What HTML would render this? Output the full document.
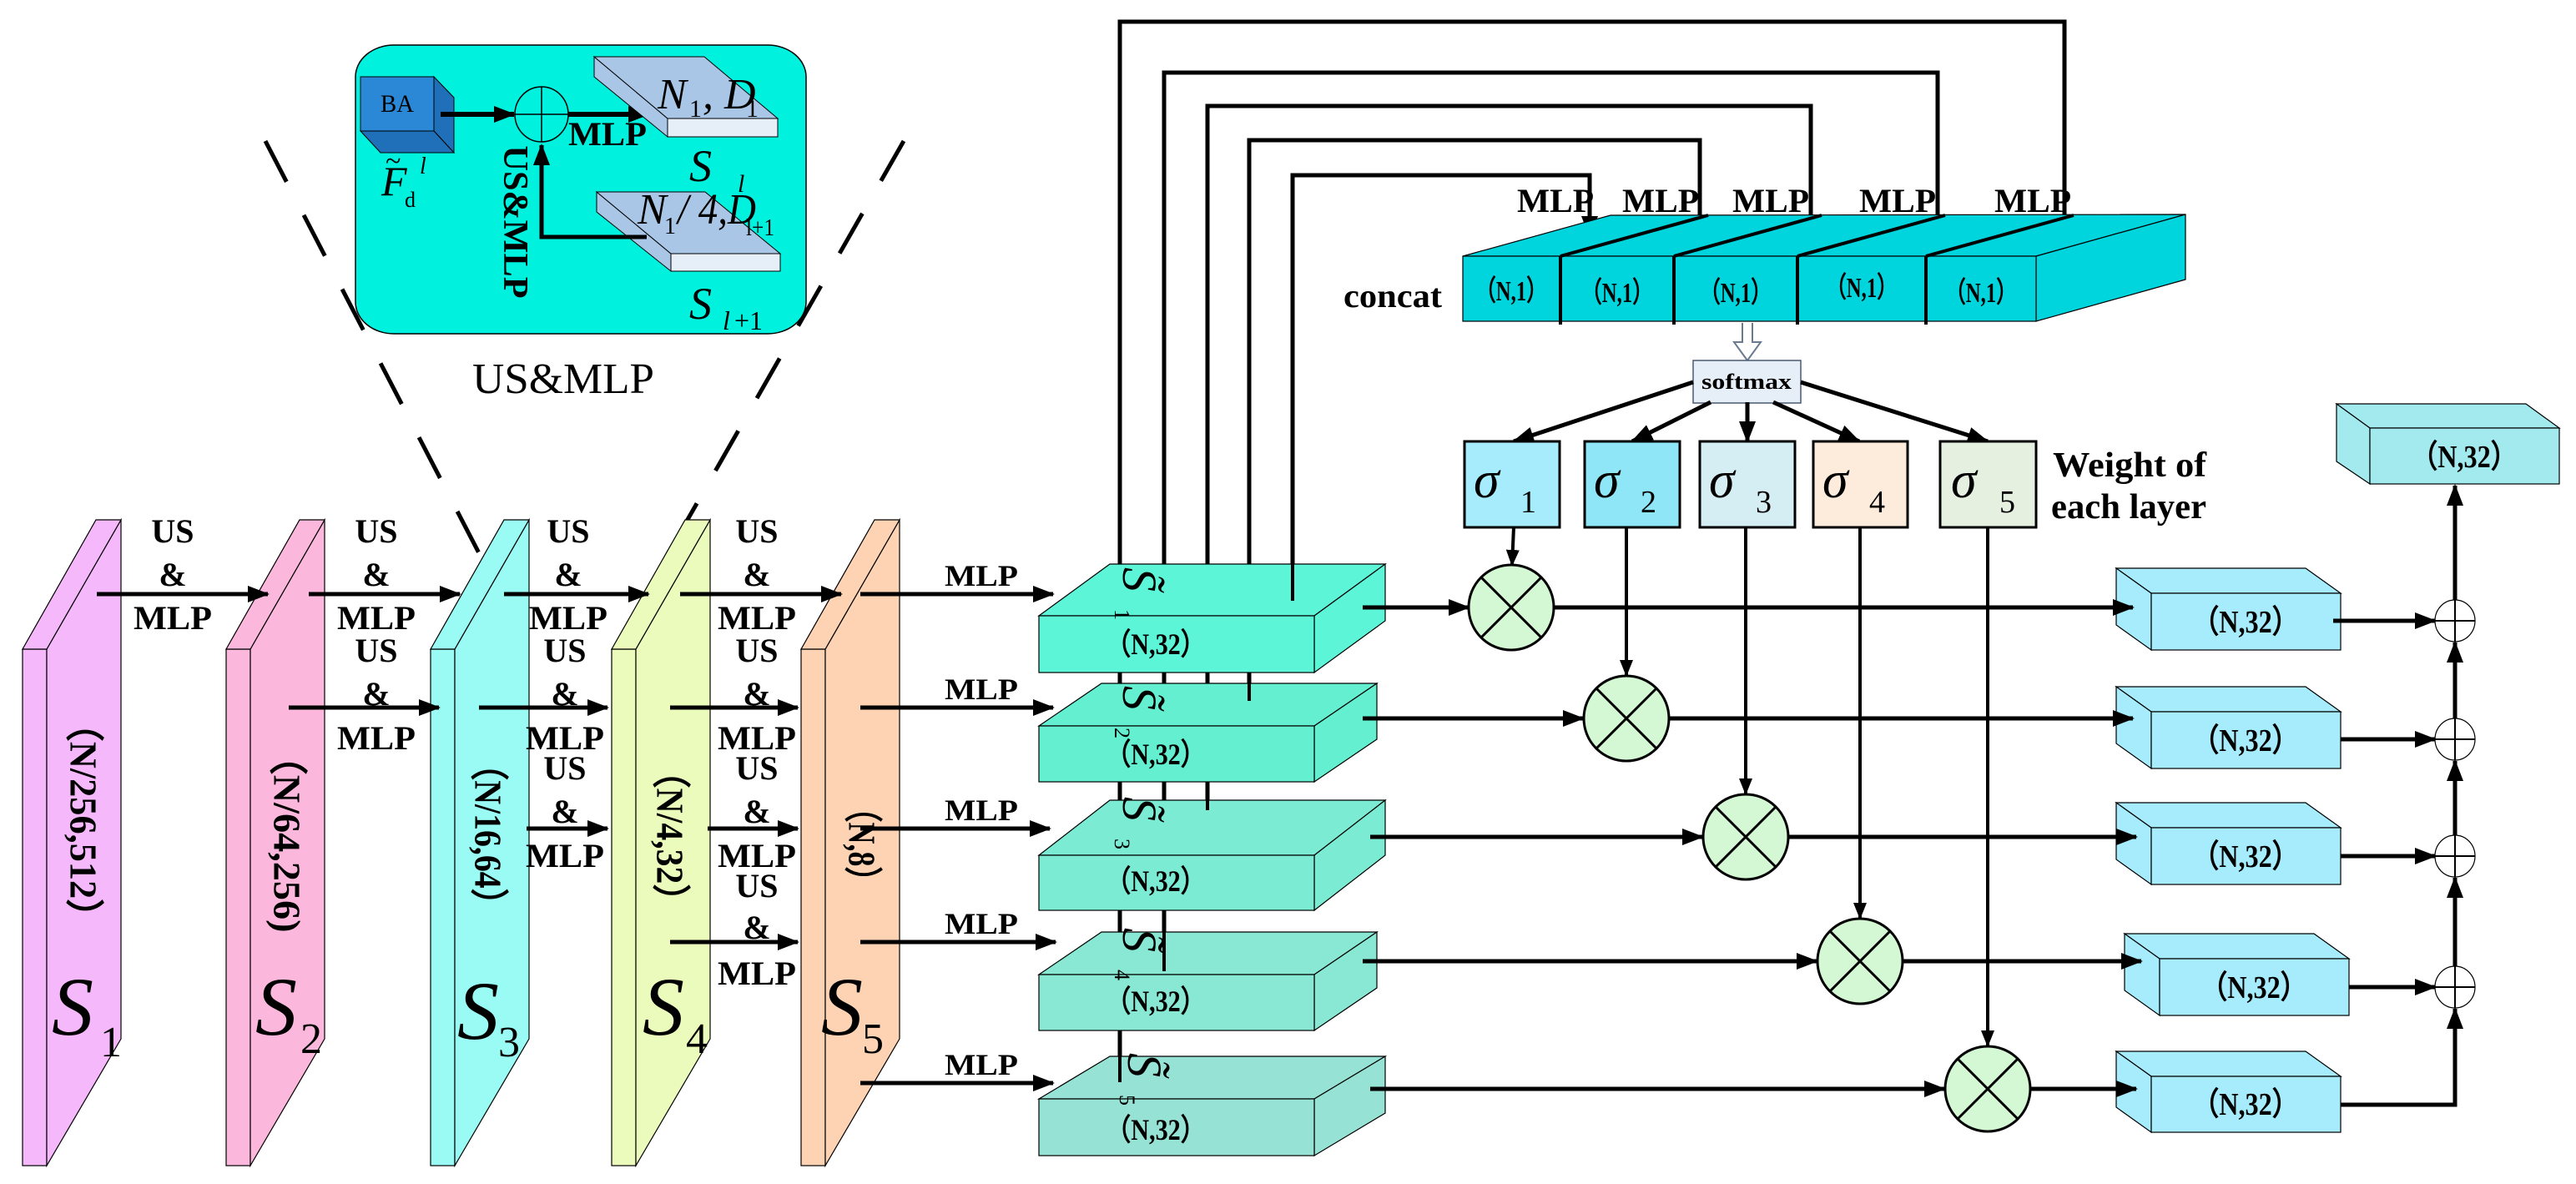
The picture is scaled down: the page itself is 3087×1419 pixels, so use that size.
<!DOCTYPE html>
<html><head><meta charset="utf-8"><style>
html,body{margin:0;padding:0;background:#fff}
svg{display:block}
text{font-family:"Liberation Serif",serif}
.b{font-weight:bold}
</style></head><body>
<svg width="3087" height="1419" viewBox="0 0 3087 1419" xmlns="http://www.w3.org/2000/svg">
<defs>
<marker id="a" markerUnits="userSpaceOnUse" markerWidth="26" markerHeight="20" refX="24" refY="10" orient="auto"><path d="M0,0 L26,10 L0,20 z" fill="#000"/></marker>
<marker id="s" markerUnits="userSpaceOnUse" markerWidth="20" markerHeight="16" refX="18" refY="8" orient="auto"><path d="M0,0 L20,8 L0,16 z" fill="#000"/></marker>
</defs>

<!-- dashed zoom lines -->
<g stroke="#000" stroke-width="5" stroke-dasharray="55,45" fill="none">
<line x1="318" y1="169" x2="601" y2="715"/>
<line x1="1083" y1="169" x2="773" y2="712"/>
</g>

<!-- inset -->
<rect x="426" y="54" width="540" height="346" rx="46" ry="38" fill="#00f2de" stroke="#000" stroke-width="1.5"/>
<polygon points="520,92 544,117 544,183 520,157" fill="#1f70b8" stroke="#000" stroke-width="1"/>
<polygon points="432,157 456,183 544,183 520,157" fill="#1f70b8" stroke="#000" stroke-width="1"/>
<rect x="432" y="92" width="88" height="65" fill="#2a88d6" stroke="#000" stroke-width="1"/>
<text x="476" y="134" font-size="30" text-anchor="middle" textLength="40" lengthAdjust="spacingAndGlyphs">BA</text>
<text x="457" y="234" font-size="50" font-style="italic">F</text>
<text x="462" y="204" font-size="34">~</text>
<text x="485" y="248" font-size="26">d</text>
<text x="503" y="208" font-size="28" font-style="italic">l</text>
<ellipse cx="649" cy="137" rx="32" ry="33" fill="none" stroke="#000" stroke-width="1.5"/>
<line x1="617" y1="137" x2="681" y2="137" stroke="#000" stroke-width="1.5"/>
<line x1="649" y1="104" x2="649" y2="170" stroke="#000" stroke-width="1.5"/>
<line x1="528" y1="137" x2="616" y2="137" stroke="#000" stroke-width="6" marker-end="url(#a)"/>
<line x1="681" y1="137" x2="777" y2="137" stroke="#000" stroke-width="6" marker-end="url(#a)"/>
<text x="681" y="174" font-size="40" class="b" textLength="94" lengthAdjust="spacingAndGlyphs">MLP</text>
<polygon points="712,68 712,92 800,164 800,142" fill="#a9c6e6" stroke="#000" stroke-width="1"/>
<polygon points="712,68 844,68 932,142 800,142" fill="#a9c6e6" stroke="#000" stroke-width="1"/>
<rect x="800" y="142" width="132" height="22" fill="#e6eef8" stroke="#000" stroke-width="1"/>
<polygon points="715,230 715,254 804,325 804,304" fill="#a9c6e6" stroke="#000" stroke-width="1"/>
<polygon points="715,230 845,230 935,304 804,304" fill="#a9c6e6" stroke="#000" stroke-width="1"/>
<rect x="804" y="304" width="131" height="21" fill="#e6eef8" stroke="#000" stroke-width="1"/>
<text x="788" y="130" font-size="52" font-style="italic">N</text>
<text x="826" y="140" font-size="30">1</text>
<text x="842" y="130" font-size="52" font-style="italic">, D</text>
<text x="894" y="140" font-size="30">1</text>
<text x="826" y="217" font-size="54" font-style="italic">S</text>
<text x="884" y="230" font-size="30" font-style="italic">l</text>
<text x="764" y="268" font-size="52" font-style="italic">N</text>
<text x="796" y="280" font-size="28">1</text>
<text x="812" y="268" font-size="52" font-style="italic" textLength="94" lengthAdjust="spacingAndGlyphs">/ 4,D</text>
<text x="894" y="282" font-size="28" textLength="34" lengthAdjust="spacingAndGlyphs">l+1</text>
<text x="826" y="382" font-size="54" font-style="italic">S</text>
<text x="866" y="395" font-size="32" font-style="italic">l</text>
<text x="880" y="395" font-size="32">+1</text>
<path d="M775,284 H649 V174" stroke="#000" stroke-width="5" fill="none" marker-end="url(#a)"/>
<text transform="translate(604,266) rotate(90)" font-size="42" class="b" text-anchor="middle" textLength="183" lengthAdjust="spacingAndGlyphs">US&amp;MLP</text>
<text x="675" y="471" font-size="52" text-anchor="middle" textLength="218" lengthAdjust="spacingAndGlyphs">US&amp;MLP</text>

<!-- plates -->
<g stroke="#000" stroke-width="1.2">
<rect x="27" y="778" width="29" height="619" fill="#f5b8fb"/><polygon points="56,778 145,623 145,1245 56,1397" fill="#f5b8fb"/><polygon points="27,778 115,623 145,623 56,778" fill="#f5b8fb"/>
<rect x="271" y="778" width="29" height="619" fill="#fbb8dc"/><polygon points="300,778 389,623 389,1245 300,1397" fill="#fbb8dc"/><polygon points="271,778 359,623 389,623 300,778" fill="#fbb8dc"/>
<rect x="516" y="778" width="29" height="619" fill="#99fbf3"/><polygon points="545,778 634,623 634,1245 545,1397" fill="#99fbf3"/><polygon points="516,778 604,623 634,623 545,778" fill="#99fbf3"/>
<rect x="733" y="778" width="29" height="619" fill="#ebfbbb"/><polygon points="762,778 851,623 851,1245 762,1397" fill="#ebfbbb"/><polygon points="733,778 821,623 851,623 762,778" fill="#ebfbbb"/>
<rect x="960" y="778" width="29" height="619" fill="#fdd3b3"/><polygon points="989,778 1078,623 1078,1245 989,1397" fill="#fdd3b3"/><polygon points="960,778 1048,623 1078,623 989,778" fill="#fdd3b3"/>
</g>
<g class="b" font-size="46" text-anchor="middle" dominant-baseline="central" font-weight="bold">
<text transform="translate(100,983) rotate(90)" textLength="277" lengthAdjust="spacingAndGlyphs">（N/256,512）</text>
<text transform="translate(344,1000) rotate(90)" textLength="235" lengthAdjust="spacingAndGlyphs">（N/64,256)</text>
<text transform="translate(585,1000) rotate(90)" textLength="209" lengthAdjust="spacingAndGlyphs">（N/16,64）</text>
<text transform="translate(803,1002) rotate(90)" textLength="198" lengthAdjust="spacingAndGlyphs">（N/4,32）</text>
<text transform="translate(1033,1012) rotate(90)" textLength="125" lengthAdjust="spacingAndGlyphs">（N,8）</text>
</g>
<g font-style="italic" font-size="100">
<text x="62" y="1240">S</text><text x="306" y="1240">S</text><text x="548" y="1245">S</text><text x="770" y="1240">S</text><text x="984" y="1240">S</text>
</g>
<g font-size="52">
<text x="120" y="1266">1</text><text x="360" y="1262">2</text><text x="597" y="1266">3</text><text x="822" y="1262">4</text><text x="1033" y="1262">5</text>
</g>

<!-- plate arrows -->
<g stroke="#000" stroke-width="5" marker-end="url(#a)">
<line x1="116" y1="712" x2="321" y2="712"/><line x1="370" y1="712" x2="551" y2="712"/><line x1="604" y1="712" x2="777" y2="712"/><line x1="815" y1="712" x2="1008" y2="712"/>
<line x1="346" y1="848" x2="526" y2="848"/><line x1="574" y1="848" x2="728" y2="848"/><line x1="803" y1="848" x2="956" y2="848"/>
<line x1="631" y1="993" x2="728" y2="993"/><line x1="848" y1="993" x2="956" y2="993"/>
<line x1="803" y1="1129" x2="956" y2="1129"/>
<line x1="1031" y1="712" x2="1262" y2="712"/><line x1="1031" y1="848" x2="1262" y2="848"/><line x1="1031" y1="993" x2="1258" y2="993"/><line x1="1031" y1="1129" x2="1265" y2="1129"/><line x1="1031" y1="1298" x2="1262" y2="1298"/>
</g>
<g class="b" font-size="40" font-weight="bold" text-anchor="middle">
<text x="207" y="650">US</text><text x="207" y="702">&amp;</text><text x="207" y="754" textLength="94" lengthAdjust="spacingAndGlyphs">MLP</text>
<text x="451" y="650">US</text><text x="451" y="702">&amp;</text><text x="451" y="754" textLength="94" lengthAdjust="spacingAndGlyphs">MLP</text>
<text x="681" y="650">US</text><text x="681" y="702">&amp;</text><text x="681" y="754" textLength="94" lengthAdjust="spacingAndGlyphs">MLP</text>
<text x="907" y="650">US</text><text x="907" y="702">&amp;</text><text x="907" y="754" textLength="94" lengthAdjust="spacingAndGlyphs">MLP</text>
<text x="451" y="793">US</text><text x="451" y="845">&amp;</text><text x="451" y="898" textLength="94" lengthAdjust="spacingAndGlyphs">MLP</text>
<text x="677" y="793">US</text><text x="677" y="845">&amp;</text><text x="677" y="898" textLength="94" lengthAdjust="spacingAndGlyphs">MLP</text>
<text x="907" y="793">US</text><text x="907" y="845">&amp;</text><text x="907" y="898" textLength="94" lengthAdjust="spacingAndGlyphs">MLP</text>
<text x="677" y="934">US</text><text x="677" y="986">&amp;</text><text x="677" y="1039" textLength="94" lengthAdjust="spacingAndGlyphs">MLP</text>
<text x="907" y="934">US</text><text x="907" y="986">&amp;</text><text x="907" y="1039" textLength="94" lengthAdjust="spacingAndGlyphs">MLP</text>
<text x="907" y="1075">US</text><text x="907" y="1125">&amp;</text><text x="907" y="1180" textLength="94" lengthAdjust="spacingAndGlyphs">MLP</text>
</g>
<g class="b" font-size="36" font-weight="bold" text-anchor="middle">
<text x="1176" y="702" textLength="88" lengthAdjust="spacingAndGlyphs">MLP</text>
<text x="1176" y="838" textLength="88" lengthAdjust="spacingAndGlyphs">MLP</text>
<text x="1176" y="983" textLength="88" lengthAdjust="spacingAndGlyphs">MLP</text>
<text x="1176" y="1119" textLength="88" lengthAdjust="spacingAndGlyphs">MLP</text>
<text x="1176" y="1288" textLength="88" lengthAdjust="spacingAndGlyphs">MLP</text>
</g>

<!-- feedback lines -->
<g stroke="#000" stroke-width="5" fill="none" marker-end="url(#a)">
<path d="M1342,1297 V26 H2474 V283"/>
<path d="M1395,1164 V87 H2322 V283"/>
<path d="M1447,971 V127 H2170 V283"/>
<path d="M1497,840 V168 H2037 V283"/>
<path d="M1549,720 V210 H1905 V283"/>
</g>

<!-- S~ boxes -->
<g stroke="#000" stroke-width="1.2">
<polygon points="1245,738 1330,676 1660,676 1575,738" fill="#5cf5d8"/><polygon points="1575,738 1660,676 1660,744 1575,806" fill="#5cf5d8"/><rect x="1245" y="738" width="330" height="68" fill="#5cf5d8"/>
<polygon points="1245,870 1320,819 1650,819 1575,870" fill="#64efd1"/><polygon points="1575,870 1650,819 1650,886 1575,937" fill="#64efd1"/><rect x="1245" y="870" width="330" height="67" fill="#64efd1"/>
<polygon points="1245,1025 1330,959 1660,959 1575,1025" fill="#7cebd3"/><polygon points="1575,1025 1660,959 1660,1025 1575,1091" fill="#7cebd3"/><rect x="1245" y="1025" width="330" height="66" fill="#7cebd3"/>
<polygon points="1245,1168 1320,1117 1650,1117 1575,1168" fill="#88e8d3"/><polygon points="1575,1168 1650,1117 1650,1184 1575,1235" fill="#88e8d3"/><rect x="1245" y="1168" width="330" height="67" fill="#88e8d3"/>
<polygon points="1245,1317 1330,1266 1660,1266 1575,1317" fill="#96e2d4"/><polygon points="1575,1317 1660,1266 1660,1334 1575,1385" fill="#96e2d4"/><rect x="1245" y="1317" width="330" height="68" fill="#96e2d4"/>
</g>
<g stroke="#000" stroke-width="4">
<line x1="1549" y1="676" x2="1549" y2="720"/><line x1="1497" y1="819" x2="1497" y2="840"/><line x1="1447" y1="959" x2="1447" y2="971"/><line x1="1395" y1="1117" x2="1395" y2="1164"/><line x1="1342" y1="1266" x2="1342" y2="1297"/>
</g>
<g font-size="58" font-style="italic">
<text transform="translate(1346,680) rotate(90)">S̃</text><text transform="translate(1336,730) rotate(90)" font-size="26" font-style="normal">1</text>
<text transform="translate(1346,822) rotate(90)">S̃</text><text transform="translate(1336,872) rotate(90)" font-size="26" font-style="normal">2</text>
<text transform="translate(1346,955) rotate(90)">S̃</text><text transform="translate(1336,1005) rotate(90)" font-size="26" font-style="normal">3</text>
<text transform="translate(1346,1112) rotate(90)">S̃</text><text transform="translate(1336,1162) rotate(90)" font-size="26" font-style="normal">4</text>
<text transform="translate(1352,1262) rotate(90)">S̃</text><text transform="translate(1342,1312) rotate(90)" font-size="26" font-style="normal">5</text>
</g>
<g class="b" font-size="36" font-weight="bold" text-anchor="middle">
<text x="1385" y="784" textLength="120" lengthAdjust="spacingAndGlyphs">（N,32）</text>
<text x="1385" y="916" textLength="120" lengthAdjust="spacingAndGlyphs">（N,32）</text>
<text x="1385" y="1068" textLength="120" lengthAdjust="spacingAndGlyphs">（N,32）</text>
<text x="1385" y="1212" textLength="120" lengthAdjust="spacingAndGlyphs">（N,32）</text>
<text x="1385" y="1366" textLength="120" lengthAdjust="spacingAndGlyphs">（N,32）</text>
</g>

<!-- concat -->
<g stroke="#000" stroke-width="1.2" fill="#00d4dc">
<polygon points="1753,307 1930,258 2619,257 2440,307"/>
<polygon points="2440,307 2619,257 2619,335 2440,385"/>
<rect x="1753" y="307" width="687" height="78"/>
</g>
<g stroke="#000" stroke-width="4">
<line x1="1870" y1="307" x2="1870" y2="389"/><line x1="2006" y1="307" x2="2006" y2="389"/><line x1="2154" y1="307" x2="2154" y2="389"/><line x1="2308" y1="307" x2="2308" y2="389"/>
<line x1="1870" y1="307" x2="2047" y2="258"/><line x1="2006" y1="307" x2="2183" y2="258"/><line x1="2154" y1="307" x2="2331" y2="258"/><line x1="2308" y1="307" x2="2485" y2="258"/>
</g>
<g class="b" font-size="34" font-weight="bold" text-anchor="middle">
<text x="1811" y="360" textLength="86" lengthAdjust="spacingAndGlyphs">（N,1）</text>
<text x="1938" y="362" textLength="86" lengthAdjust="spacingAndGlyphs">（N,1）</text>
<text x="2080" y="362" textLength="86" lengthAdjust="spacingAndGlyphs">（N,1）</text>
<text x="2231" y="356" textLength="86" lengthAdjust="spacingAndGlyphs">（N,1）</text>
<text x="2374" y="362" textLength="86" lengthAdjust="spacingAndGlyphs">（N,1）</text>
</g>
<text x="1610" y="368" font-size="40" font-weight="bold" textLength="118" lengthAdjust="spacingAndGlyphs">concat</text>
<g font-size="40" font-weight="bold">
<text x="1818" y="254" textLength="92" lengthAdjust="spacingAndGlyphs">MLP</text>
<text x="1944" y="254" textLength="92" lengthAdjust="spacingAndGlyphs">MLP</text>
<text x="2076" y="254" textLength="92" lengthAdjust="spacingAndGlyphs">MLP</text>
<text x="2228" y="254" textLength="92" lengthAdjust="spacingAndGlyphs">MLP</text>
<text x="2390" y="254" textLength="92" lengthAdjust="spacingAndGlyphs">MLP</text>
</g>

<!-- softmax -->
<path d="M2088,387 V410 H2078 L2094,432 L2110,410 H2100 V387" fill="#fff" stroke="#6a7a90" stroke-width="2"/>
<rect x="2029" y="432" width="129" height="51" fill="#e6eef8" stroke="#4a5a70" stroke-width="1.5"/>
<text x="2093" y="466" font-size="26" font-weight="bold" text-anchor="middle" textLength="108" lengthAdjust="spacingAndGlyphs">softmax</text>
<g stroke="#000" stroke-width="5" marker-end="url(#a)">
<line x1="2029" y1="458" x2="1814" y2="529"/>
<line x1="2050" y1="482" x2="1956" y2="529"/>
<line x1="2094" y1="482" x2="2094" y2="529"/>
<line x1="2125" y1="482" x2="2228" y2="529"/>
<line x1="2158" y1="458" x2="2382" y2="529"/>
</g>
<g stroke="#000" stroke-width="3">
<rect x="1755" y="529" width="114" height="103" fill="#a6ecfc"/>
<rect x="1899" y="529" width="114" height="103" fill="#8fe6f6"/>
<rect x="2037" y="529" width="114" height="103" fill="#d4eef4"/>
<rect x="2173" y="529" width="113" height="103" fill="#fdebdc"/>
<rect x="2325" y="529" width="115" height="103" fill="#e6f0e0"/>
</g>
<g font-style="italic" font-size="62">
<text x="1766" y="596">σ</text><text x="1910" y="596">σ</text><text x="2048" y="596">σ</text><text x="2184" y="596">σ</text><text x="2338" y="596">σ</text>
</g>
<g font-size="38">
<text x="1822" y="614">1</text><text x="1966" y="614">2</text><text x="2104" y="614">3</text><text x="2240" y="614">4</text><text x="2396" y="614">5</text>
</g>
<text x="2460" y="571" font-size="42" font-weight="bold" textLength="184" lengthAdjust="spacingAndGlyphs">Weight of</text>
<text x="2458" y="621" font-size="42" font-weight="bold" textLength="186" lengthAdjust="spacingAndGlyphs">each layer</text>

<!-- output boxes -->
<g stroke="#000" stroke-width="1.2" fill="#a6ecfc">
<polygon points="2578,711 2536,681 2763,681 2805,711"/><polygon points="2578,711 2536,681 2536,749 2578,779"/><rect x="2578" y="711" width="227" height="68"/>
<polygon points="2578,853 2536,823 2763,823 2805,853"/><polygon points="2578,853 2536,823 2536,891 2578,921"/><rect x="2578" y="853" width="227" height="68"/>
<polygon points="2578,992 2536,962 2763,962 2805,992"/><polygon points="2578,992 2536,962 2536,1030 2578,1060"/><rect x="2578" y="992" width="227" height="68"/>
<polygon points="2588,1149 2546,1119 2773,1119 2815,1149"/><polygon points="2588,1149 2546,1119 2546,1187 2588,1217"/><rect x="2588" y="1149" width="227" height="68"/>
<polygon points="2578,1290 2536,1260 2763,1260 2805,1290"/><polygon points="2578,1290 2536,1260 2536,1327 2578,1357"/><rect x="2578" y="1290" width="227" height="67"/>
<polygon points="2840,513 2800,484 3027,484 3067,513" fill="#a2eaee"/><polygon points="2840,513 2800,484 2800,553 2840,580" fill="#a2eaee"/><rect x="2840" y="513" width="227" height="67" fill="#a2eaee"/>
</g>
<g font-size="38" font-weight="bold" text-anchor="middle">
<text x="2691" y="758" textLength="128" lengthAdjust="spacingAndGlyphs">（N,32）</text>
<text x="2691" y="900" textLength="128" lengthAdjust="spacingAndGlyphs">（N,32）</text>
<text x="2691" y="1039" textLength="128" lengthAdjust="spacingAndGlyphs">（N,32）</text>
<text x="2701" y="1196" textLength="128" lengthAdjust="spacingAndGlyphs">（N,32）</text>
<text x="2691" y="1336" textLength="128" lengthAdjust="spacingAndGlyphs">（N,32）</text>
<text x="2953" y="560" textLength="128" lengthAdjust="spacingAndGlyphs">（N,32）</text>
</g>

<!-- sigma verticals -->
<g stroke="#000" stroke-width="4" marker-end="url(#s)">
<line x1="1814" y1="632" x2="1812" y2="677"/>
<line x1="1949" y1="632" x2="1949" y2="809"/>
<line x1="2092" y1="632" x2="2092" y2="951"/>
<line x1="2229" y1="632" x2="2229" y2="1100"/>
<line x1="2382" y1="632" x2="2382" y2="1253"/>
</g>
<!-- row arrows -->
<g stroke="#000" stroke-width="5" marker-end="url(#a)">
<line x1="1633" y1="728" x2="1760" y2="728"/><line x1="1862" y1="728" x2="2556" y2="728"/>
<line x1="1633" y1="861" x2="1897" y2="861"/><line x1="2000" y1="861" x2="2556" y2="861"/>
<line x1="1642" y1="1003" x2="2040" y2="1003"/><line x1="2143" y1="1003" x2="2560" y2="1003"/>
<line x1="1633" y1="1152" x2="2177" y2="1152"/><line x1="2280" y1="1152" x2="2566" y2="1152"/>
<line x1="1642" y1="1305" x2="2330" y2="1305"/><line x1="2433" y1="1305" x2="2560" y2="1305"/>
</g>
<g fill="#d4f8d4" stroke="#000" stroke-width="3">
<circle cx="1811" cy="728" r="51"/><circle cx="1949" cy="861" r="51"/><circle cx="2092" cy="1003" r="51"/><circle cx="2229" cy="1152" r="51"/><circle cx="2382" cy="1305" r="51"/>
</g>
<g stroke="#000" stroke-width="3">
<path d="M1775,692 L1847,764 M1847,692 L1775,764"/>
<path d="M1913,825 L1985,897 M1985,825 L1913,897"/>
<path d="M2056,967 L2128,1039 M2128,967 L2056,1039"/>
<path d="M2193,1116 L2265,1188 M2265,1116 L2193,1188"/>
<path d="M2346,1269 L2418,1341 M2418,1269 L2346,1341"/>
</g>

<!-- sum column -->
<g stroke="#000" stroke-width="5" marker-end="url(#a)" fill="none">
<line x1="2796" y1="744" x2="2918" y2="744"/>
<line x1="2805" y1="886" x2="2918" y2="886"/>
<line x1="2805" y1="1026" x2="2918" y2="1026"/>
<line x1="2815" y1="1183" x2="2918" y2="1183"/>
<path d="M2805,1324 H2942 V1209"/>
<line x1="2942" y1="1158" x2="2942" y2="1052"/>
<line x1="2942" y1="1001" x2="2942" y2="912"/>
<line x1="2942" y1="861" x2="2942" y2="770"/>
<line x1="2942" y1="719" x2="2942" y2="582"/>
</g>
<g fill="#fff" stroke="#000" stroke-width="1.2">
<ellipse cx="2942" cy="744" rx="24" ry="25"/><ellipse cx="2942" cy="886" rx="24" ry="25"/><ellipse cx="2942" cy="1026" rx="24" ry="25"/><ellipse cx="2942" cy="1183" rx="24" ry="25"/>
</g>
<g stroke="#000" stroke-width="2">
<path d="M2918,744 H2966 M2942,719 V769"/><path d="M2918,886 H2966 M2942,861 V911"/><path d="M2918,1026 H2966 M2942,1001 V1051"/><path d="M2918,1183 H2966 M2942,1158 V1208"/>
</g>
</svg>
</body></html>
